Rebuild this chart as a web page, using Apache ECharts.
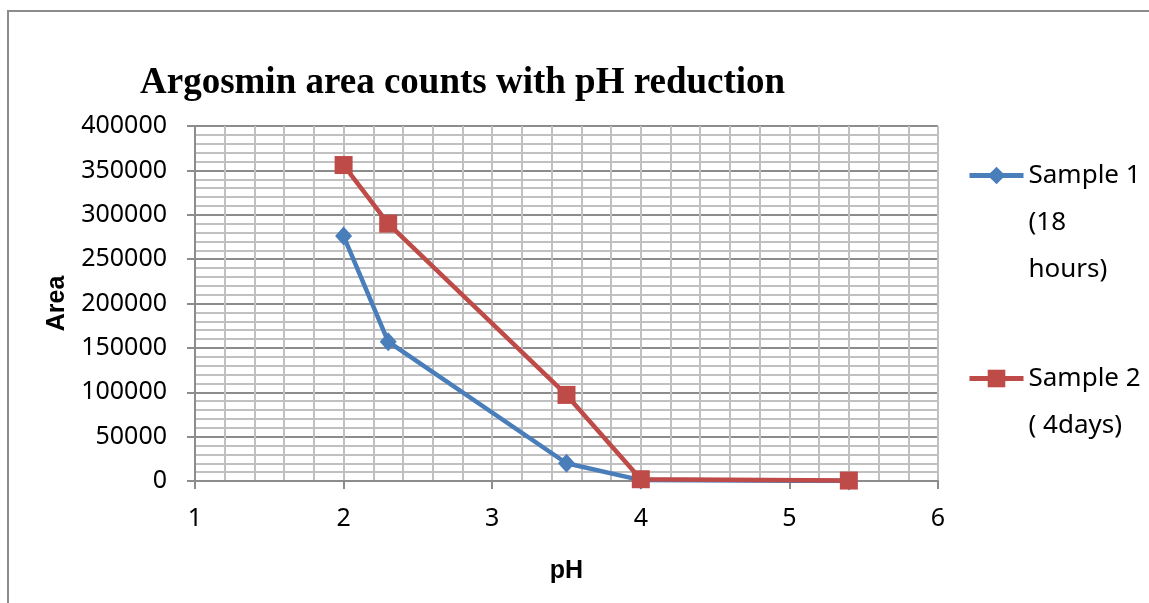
<!DOCTYPE html>
<html>
<head>
<meta charset="utf-8">
<script src="https://cdn.jsdelivr.net/npm/echarts@6/dist/echarts.min.js"></script>
<style>
  html, body { margin: 0; padding: 0; background: #fff; }
  #chart { width: 1149px; height: 603px; }
</style>
</head>
<body>
<div id="chart"></div>
<script>
// pH values where area counts were measured
const phValues = [2, 2.3, 3.5, 4, 5.4];
// Argosmin peak area, sample 1 (18 hours)
const sample1Area = [276000, 157000, 20000, 1000, 0];
// Argosmin peak area, sample 2 (4 days)
const sample2Area = [356000, 290000, 97000, 2000, 500];
const seriesNames = ['Sample 1 (18 hours)', 'Sample 2 ( 4days)'];
// Legend text; leading blank lines keep the icon beside the first text line
const legendLabels = [' \n \nSample 1\n(18\nhours)', ' \nSample 2\n( 4days)'];

const pairs = (xs, ys) => xs.map((x, i) => [x, ys[i]]);

const chart = echarts.init(document.getElementById('chart'));
const labelFont = 'Noto Sans';
const labelSize = 25;

const legendBase = {
  orient: 'vertical',
  itemWidth: 54, itemHeight: 22, itemGap: 0,
  lineStyle: { width: 5 },
  textStyle: { fontFamily: labelFont, fontSize: 26, lineHeight: 47, color: '#000' }
};

chart.setOption({
  animation: false,
  backgroundColor: '#fff',
  title: {
    text: 'Argosmin area counts with pH reduction',
    left: 135,
    top: 60,
    textStyle: { fontFamily: 'Liberation Serif', fontWeight: 'bold', fontSize: 37, color: '#000' }
  },
  graphic: [{
    type: 'rect',
    shape: { x: 8, y: 11, width: 1160, height: 620 },
    style: { fill: null, stroke: '#8c8c8c', lineWidth: 2 },
    silent: true
  }],
  legend: [
    Object.assign({}, legendBase, {
      data: [seriesNames[0]],
      formatter: () => legendLabels[0],
      left: 962, top: 170 - 117
    }),
    Object.assign({}, legendBase, {
      data: [seriesNames[1]],
      formatter: () => legendLabels[1],
      left: 962, top: 373 - 70
    })
  ],
  grid: { left: 195, right: 211, top: 126, bottom: 122, containLabel: false },
  xAxis: {
    type: 'value',
    min: 1, max: 6, interval: 1,
    name: 'pH',
    nameLocation: 'middle',
    nameGap: 78,
    nameTextStyle: { fontFamily: 'Liberation Sans', fontWeight: 'bold', fontSize: 25, color: '#000' },
    axisLine: { show: true, lineStyle: { color: '#8c8c8c', width: 2 } },
    axisTick: { show: true, length: 8, lineStyle: { color: '#8c8c8c', width: 2 } },
    axisLabel: { margin: 25, fontFamily: labelFont, fontSize: labelSize, color: '#000' },
    splitLine: { show: true, lineStyle: { color: '#c0c0c0', width: 2 } },
    minorTick: { show: false, splitNumber: 5 },
    minorSplitLine: { show: true, lineStyle: { color: '#c0c0c0', width: 2 } }
  },
  yAxis: {
    type: 'value',
    min: 0, max: 400000, interval: 50000,
    name: 'Area',
    nameLocation: 'middle',
    nameGap: 125,
    nameTextStyle: { fontFamily: 'Liberation Sans', fontWeight: 'bold', fontSize: 25, color: '#000' },
    axisLine: { show: true, lineStyle: { color: '#8c8c8c', width: 2 } },
    axisTick: { show: true, length: 8, lineStyle: { color: '#8c8c8c', width: 2 } },
    axisLabel: { margin: 28, fontFamily: labelFont, fontSize: labelSize, color: '#000', formatter: v => String(v) },
    splitLine: { show: true, lineStyle: { color: '#8c8c8c', width: 2 } },
    minorTick: { show: false, splitNumber: 5 },
    minorSplitLine: { show: true, lineStyle: { color: '#c0c0c0', width: 2 } }
  },
  series: [
    {
      name: seriesNames[0],
      type: 'line',
      data: pairs(phValues, sample1Area),
      symbol: 'diamond',
      symbolSize: [17, 19],
      lineStyle: { color: '#4a7ebb', width: 4.5 },
      itemStyle: { color: '#4a7ebb' },
      z: 2
    },
    {
      name: seriesNames[1],
      type: 'line',
      data: pairs(phValues, sample2Area),
      symbol: 'rect',
      symbolSize: 18,
      lineStyle: { color: '#be4b48', width: 4.5 },
      itemStyle: { color: '#be4b48' },
      z: 3
    }
  ]
});
</script>
</body>
</html>
